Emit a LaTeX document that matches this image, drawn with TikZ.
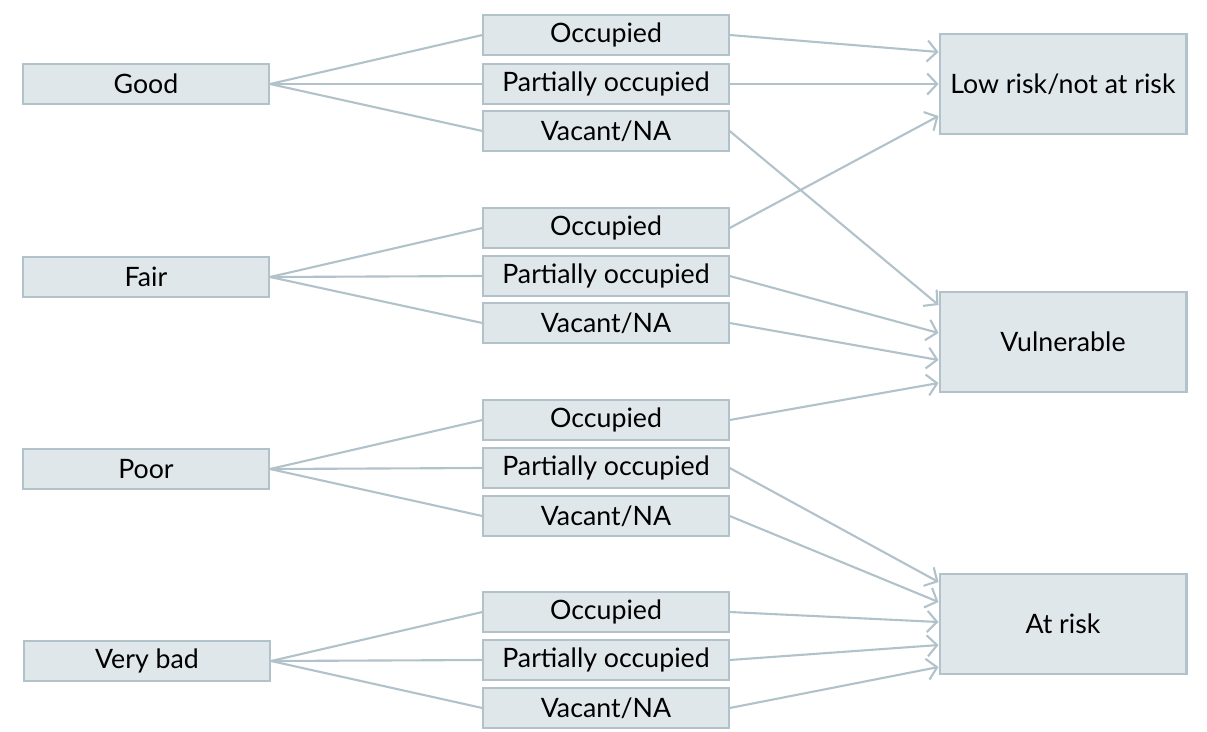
\documentclass[tikz,border=0pt]{standalone}
\usepackage{fontspec}
\setmainfont{Lato}
\usetikzlibrary{arrows.meta}
\definecolor{boxfill}{HTML}{E0E7EB}
\definecolor{boxline}{HTML}{B2C2CB}
\tikzset{
  state/.style={draw=boxline, fill=boxfill, line width=1.5pt, inner sep=0pt,
    minimum width=6.15cm, minimum height=1.02cm, font=\fontsize{19}{22}\selectfont},
  use/.style={state, minimum width=6.13cm},
  risk/.style={state, minimum width=6.17cm, minimum height=2.48cm},
  fan/.style={draw=boxline, line width=1.5pt},
  flow/.style={fan, -{Straight Barb[length=7pt, width=15pt, line width=1.5pt]}}
}
\begin{document}
\begin{tikzpicture}[x=0.025cm, y=-0.025cm]
      \useasboundingbox (0,0) rectangle (1207,731);

      \node[state] (good) at (146,84) {Good};
      \node[state] (fair) at (146,277) {Fair};
      \node[state] (poor) at (146,469) {Poor};
      \node[state] (verybad) at (147,661) {Very bad};

      \node[use] (good_occ) at (606,35) {Occupied};
      \node[use] (good_part) at (606,84) {Partially occupied};
      \node[use] (good_vac) at (606,131) {Vacant/NA};
      \node[use] (fair_occ) at (606,228) {Occupied};
      \node[use] (fair_part) at (606,276) {Partially occupied};
      \node[use] (fair_vac) at (606,323) {Vacant/NA};
      \node[use] (poor_occ) at (606,420) {Occupied};
      \node[use] (poor_part) at (606,468) {Partially occupied};
      \node[use] (poor_vac) at (606,516) {Vacant/NA};
      \node[use] (verybad_occ) at (606,612) {Occupied};
      \node[use] (verybad_part) at (606,660) {Partially occupied};
      \node[use] (verybad_vac) at (606,708) {Vacant/NA};

      \node[risk] (low) at (1063,84) {Low risk/not at risk};
      \node[risk] (vuln) at (1063,342) {Vulnerable};
      \node[risk] (atrisk) at (1063,624) {At risk};

      % condition -> occupancy
      \draw[fan] (good.east) -- (good_occ.west);
      \draw[fan] (good.east) -- (good_part.west);
      \draw[fan] (good.east) -- (good_vac.west);
      \draw[fan] (fair.east) -- (fair_occ.west);
      \draw[fan] (fair.east) -- (fair_part.west);
      \draw[fan] (fair.east) -- (fair_vac.west);
      \draw[fan] (poor.east) -- (poor_occ.west);
      \draw[fan] (poor.east) -- (poor_part.west);
      \draw[fan] (poor.east) -- (poor_vac.west);
      \draw[fan] (verybad.east) -- (verybad_occ.west);
      \draw[fan] (verybad.east) -- (verybad_part.west);
      \draw[fan] (verybad.east) -- (verybad_vac.west);

      % occupancy -> risk
      \draw[flow] (good_occ.east) -- ([yshift=0.8cm]low.west);
      \draw[flow] (good_part.east) -- (low.west);
      \draw[flow] (fair_occ.east) -- ([yshift=-0.8cm]low.west);
      \draw[flow] (good_vac.east) -- ([yshift=0.925cm]vuln.west);
      \draw[flow] (fair_part.east) -- ([yshift=0.225cm]vuln.west);
      \draw[flow] (fair_vac.east) -- ([yshift=-0.45cm]vuln.west);
      \draw[flow] (poor_occ.east) -- ([yshift=-1.025cm]vuln.west);
      \draw[flow] (poor_part.east) -- ([yshift=1.05cm]atrisk.west);
      \draw[flow] (poor_vac.east) -- ([yshift=0.55cm]atrisk.west);
      \draw[flow] (verybad_occ.east) -- ([yshift=0.05cm]atrisk.west);
      \draw[flow] (verybad_part.east) -- ([yshift=-0.525cm]atrisk.west);
      \draw[flow] (verybad_vac.east) -- ([yshift=-1.075cm]atrisk.west);

    \end{tikzpicture}
\end{document}
